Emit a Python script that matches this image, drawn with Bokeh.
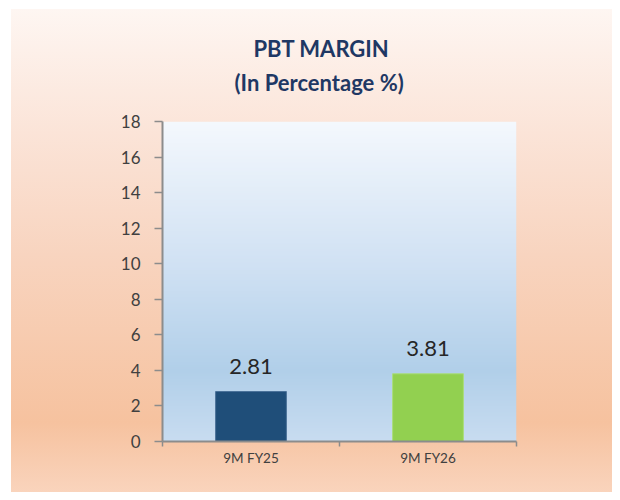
import numpy as np
from bokeh.plotting import figure
from bokeh.models import Range1d, FixedTicker, ColumnDataSource, LabelSet, Title
from bokeh.core.properties import value
from bokeh.embed import file_html
from bokeh.resources import INLINE

# ---- data ----
categories = ["9M FY25", "9M FY26"]
values = [2.81, 3.81]
value_labels = ["2.81", "3.81"]
y_ticks = [0, 2, 4, 6, 8, 10, 12, 14, 16, 18]
title_lines = ["PBT MARGIN", "(In Percentage  %)"]

# ---- styles ----
bar_colors = ["#1F4E79", "#92D050"]
bar_edges = ["#4A7199", "#AADD7C"]
FONT = "Lato"
TEXT = "#404040"
AXIS = "#8C8C8C"

n = len(categories)
y_max = y_ticks[-1]
centers = [i + 0.5 for i in range(n)]
bounds = list(range(n + 1))

p = figure(width=612, height=492, output_backend="svg", toolbar_location=None,
           x_range=Range1d(0, n), y_range=Range1d(0, y_max),
           min_border_left=162, min_border_right=96,
           min_border_top=121, min_border_bottom=51,
           background_fill_color=None, border_fill_color=None,
           outline_line_color=None, title=None)
p.xgrid.visible = False
p.ygrid.visible = False

# outer chart-area gradient (CSS)
p.styles = {"background": "linear-gradient(to bottom, #FEF6F2 0%, #FBE4D8 25%, "
                          "#F8D4BF 50%, #F6C29F 84%, #FAD6C0 100%) 11px 9px / 100% 100% no-repeat"}

# plot-area gradient as an image filling the frame
H = 320
stop_pos = [0.0, 0.45, 0.78, 1.0]
stop_col = [(0xF4, 0xF8, 0xFD), (0xD0, 0xE1, 0xF3), (0xB1, 0xCF, 0xE9), (0xC8, 0xDC, 0xF0)]
t = 1.0 - np.arange(H) / (H - 1)          # row 0 = bottom
img = np.zeros((H, 1), dtype=np.uint32)
view = img.view(dtype=np.uint8).reshape((H, 1, 4))
for k in range(3):
    view[:, 0, k] = np.round(np.interp(t, stop_pos, [c[k] for c in stop_col])).astype(np.uint8)
view[:, 0, 3] = 255
p.image_rgba(image=[img], x=0, y=0, dw=n, dh=y_max)

# bars
src = ColumnDataSource(dict(x=centers, top=values, color=bar_colors, edge=bar_edges,
                            label=value_labels))
p.vbar(x="x", top="top", width=0.4, source=src, fill_color="color",
       line_color="edge", line_width=1)

p.add_layout(LabelSet(x="x", y="top", text="label", source=src, y_offset=18,
                      text_align="center", text_baseline="alphabetic",
                      text_font=value(FONT), text_font_size=value("22px"),
                      text_color=value("#262626")))

# title: spacer nearest the frame, then line 2, then line 1
p.add_layout(Title(text=" ", align="left", standoff=22, text_font_size="1px"), "above")
p.add_layout(Title(text=title_lines[1], align="left", offset=72, standoff=2,
                   text_font=FONT, text_font_size="22px", text_font_style="bold",
                   text_color="#1F3864"), "above")
p.add_layout(Title(text=title_lines[0], align="left", offset=91, standoff=8,
                   text_font=FONT, text_font_size="22px", text_font_style="bold",
                   text_color="#1F3864"), "above")

# y axis
ya = p.yaxis[0]
ya.ticker = FixedTicker(ticks=y_ticks)
ya.axis_line_color = AXIS
ya.axis_line_width = 2
ya.major_tick_line_color = AXIS
ya.major_tick_line_width = 1.5
ya.major_tick_in = 0
ya.major_tick_out = 8
ya.minor_tick_line_color = None
ya.major_label_standoff = 14
ya.major_label_text_font = FONT
ya.major_label_text_font_size = "17px"
ya.major_label_text_color = TEXT

# x axis
xa = p.xaxis[0]
xa.ticker = FixedTicker(ticks=centers, minor_ticks=bounds)
xa.major_label_overrides = {c: cat for c, cat in zip(centers, categories)}
xa.axis_line_color = AXIS
xa.axis_line_width = 2
xa.major_tick_line_color = None
xa.major_tick_in = 0
xa.major_tick_out = 0
xa.minor_tick_line_color = AXIS
xa.minor_tick_line_width = 1.5
xa.minor_tick_in = 0
xa.minor_tick_out = 5
xa.major_label_standoff = 3
xa.major_label_text_font = FONT
xa.major_label_text_font_size = "13.5px"
xa.major_label_text_color = TEXT

open("out.html", "w").write(file_html(p, INLINE))
